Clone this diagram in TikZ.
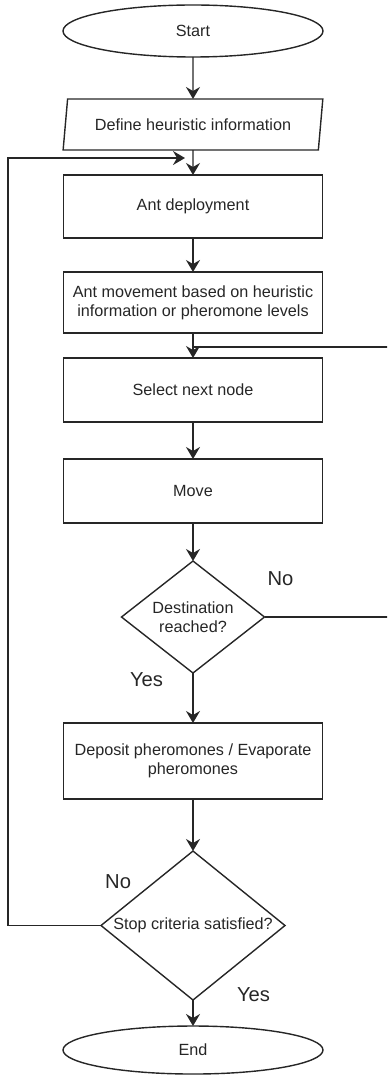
\documentclass[tikz,border=0pt]{standalone}
\usepackage{fontspec}
\setmainfont{Liberation Sans}
\usetikzlibrary{arrows.meta,positioning,shapes.geometric,calc}

\begin{document}
\begin{tikzpicture}[
  font=\fontsize{8.1}{9.5}\selectfont,
  line width=0.7pt,
  every node/.style={text=black!85, outer sep=0pt},
  terminal/.style={ellipse, draw=black!85, minimum width=130pt, inner sep=0pt},
  io/.style={trapezium, trapezium left angle=73.6, trapezium right angle=106.4,
    trapezium stretches=true, draw=black!85, minimum width=130pt, minimum height=25.5pt, inner sep=0pt},
  process/.style={rectangle, draw=black!85, minimum width=129.5pt, align=center, inner sep=0pt},
  decision/.style={diamond, draw=black!85, inner sep=0pt, align=center},
  lbl/.style={font=\fontsize{10.1}{12}\selectfont, inner sep=0pt},
  arr/.style={-{Stealth[length=6pt, width=7pt, inset=2pt]}, draw=black!85}
]
\useasboundingbox (0,0) rectangle (193.5pt,-537.5pt);
\clip (0,0) rectangle (193.5pt,-537.5pt);

\node[terminal, minimum height=26pt] (start) at (96.5pt,-15.5pt) {Start};
\node[io, below=21pt of start] (define) {Define heuristic information};
\node[process, minimum height=31.5pt, below=12.5pt of define] (deploy) {Ant deployment};
\node[process, minimum height=30.5pt, below=17pt of deploy] (moving) {Ant movement based on heuristic\\information or pheromone levels};
\node[process, minimum height=32pt, below=12.5pt of moving] (select) {Select next node};
\node[process, minimum height=32pt, below=18.5pt of select] (move) {Move};
\node[decision, minimum width=71.5pt, minimum height=56pt, below=19pt of move] (reached)
  {\makebox[0pt]{Destination}\\\makebox[0pt]{reached?}};
\node[process, minimum height=38pt, below=25pt of reached] (deposit) {Deposit pheromones / Evaporate\\pheromones};
\node[decision, minimum width=92pt, minimum height=74.5pt, below=26pt of deposit] (stop)
  {\makebox[0pt]{Stop criteria satisfied?}};
\node[terminal, minimum height=24pt, below=13pt of stop] (end) {End};

% branch labels
\node[lbl, anchor=west] (reachedno) at ([shift={(1.5pt,19pt)}]reached.east) {No};
\node[lbl, anchor=east] (reachedyes) at ([shift={(-15pt,-3.5pt)}]reached.south) {Yes};
\node[lbl, anchor=east] (stopno) at ([shift={(15pt,21.75pt)}]stop.west) {No};
\node[lbl, anchor=west] (stopyes) at ([shift={(22pt,2.5pt)}]stop.south) {Yes};

\coordinate (backin) at ([xshift=-4pt]$(define.south)!0.32!(deploy.north)$);
\coordinate (mergein) at ($(moving.south)!0.56!(select.north)$);

\draw[arr] (start) -- (define);
\draw[arr] (define) -- (deploy);
\draw[arr] (deploy) -- (moving);
\draw[arr] (moving) -- (select);
\draw[arr] (select) -- (move);
\draw[arr] (move) -- (reached);
\draw[arr] (reached) -- (deposit);
\draw[arr] (deposit) -- (stop);
\draw[arr] (stop) -- (end);
\draw[draw=black!85] (reached.east) -- ++(62.5pt,0) |- (mergein);
\draw[arr] (stop.west) -- ++(-46.5pt,0) |- (backin);
\end{tikzpicture}
\end{document}
